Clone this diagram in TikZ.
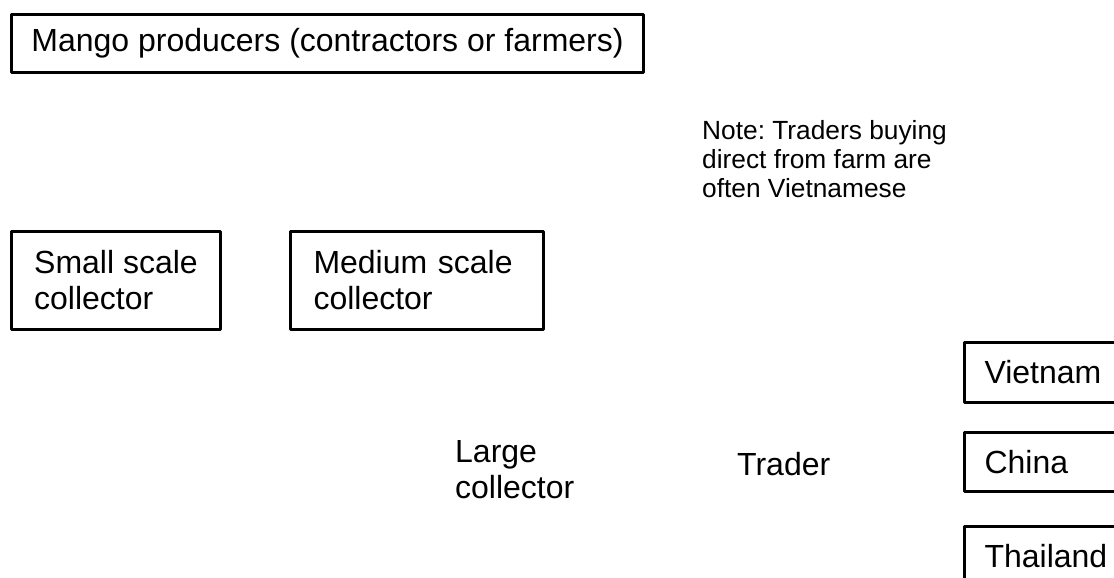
\documentclass[tikz,border=0pt]{standalone}
\usepackage{fontspec}
\setmainfont{Liberation Sans}
\usepackage{tikz}
\frenchspacing

\begin{document}
\begin{tikzpicture}[
    x=1pt, y=-1pt,
    line cap=round,
    line join=round,
    every node/.style={font=\fontsize{32}{36}\selectfont},
    box/.style={draw, line width=3pt, align=left, anchor=north west},
    plain/.style={inner sep=0pt, align=left, anchor=north west}
]

\useasboundingbox (0,0) rectangle (1114,578);

\def\boxh{98}
\def\destw{140}

% producers on top
\node[box, minimum width=632, minimum height=58] (producers) at (10,13) {Mango producers (contractors or farmers)};

% collectors
\node[box, minimum width=209, minimum height=\boxh] (small) at (10,230) {Small scale\\collector};
\node[box, text width=207, inner xsep=23, minimum height=\boxh] (medium) at (289,230) {Medium scale\\collector};
\node[plain] (large) at (455,440) {Large\\collector};

\node[plain] (trader) at (737,452) {Trader};
\node[plain, font=\fontsize{26.3}{29}\selectfont] (note) at (702,120) {Note: Traders buying\\direct from farm are\\often Vietnamese};

% export destinations, running off the right edge
\node[box, text width=\destw, inner xsep=20, minimum height=60] (vietnam) at (963,341) {Vietnam};
\node[box, text width=\destw, inner xsep=20, minimum height=59] (china) at (963,431) {China};
\node[box, text width=\destw, inner xsep=20, minimum height=60] (thailand) at (963,525) {Thailand};

\end{tikzpicture}
\end{document}
